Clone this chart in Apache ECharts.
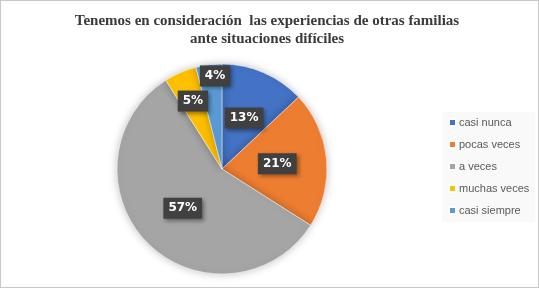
<!DOCTYPE html>
<html>
<head>
<meta charset="utf-8">
<script src="https://cdn.jsdelivr.net/npm/echarts@6/dist/echarts.min.js"></script>
<style>
  html, body { margin: 0; padding: 0; background: #fff; }
  #chart { width: 537px; height: 286px; border: 1px solid #c8c8c8; }
</style>
</head>
<body>
<div id="chart"></div>
<script>
  var categories = ['casi nunca', 'pocas veces', 'a veces', 'muchas veces', 'casi siempre']
  var values = [13, 21, 57, 5, 4]
  var colors = ['#4472c4', '#ed7d31', '#a5a5a5', '#ffc000', '#5b9bd5']
  // small slices get their label pushed outward like in the original
  var labelShift = [[0, 0], [0, 0], [0, 0], [-7, -17], [0, -38]]

  var myChart = echarts.init(document.getElementById('chart'))
  var data = []
  for (var i = 0; i < categories.length; i++) {
    data.push({ name: categories[i], value: values[i] })
  }
  var option = {
    color: colors,
    animation: false,
    title: {
      text: 'Tenemos en consideración  las experiencias de otras familias\nante situaciones difíciles',
      left: 261,
      top: 6,
      textAlign: 'center',
      textStyle: {
        fontFamily: 'Liberation Serif',
        fontSize: 15,
        fontWeight: 'bold',
        color: '#3a3a3a',
        lineHeight: 18,
      },
    },
    legend: {
      orient: 'vertical',
      left: 441,
      top: 111,
      width: 88,
      padding: [5, 6, 6, 6],
      itemGap: 11,
      itemWidth: 7,
      itemHeight: 7,
      icon: 'rect',
      backgroundColor: '#f9f9f9',
      data: categories,
      textStyle: {
        fontFamily: 'Liberation Sans',
        fontSize: 11,
        color: '#595959',
        padding: [0, 0, 0, -2],
      },
    },
    series: [
      {
        type: 'pie',
        center: [221, 168],
        radius: [0, 105],
        startAngle: 90,
        clockwise: true,
        data: data,
        itemStyle: {
          borderColor: '#fff',
          borderWidth: 0.5,
          shadowBlur: 8,
          shadowColor: 'rgba(0,0,0,0.25)',
        },
        label: {
          position: 'inside',
          formatter: '{c}%',
          color: '#fff',
          fontFamily: 'DejaVu Sans',
          fontWeight: 'bold',
          fontSize: 12,
          backgroundColor: '#404040',
          padding: [5, 5, 4, 5],
          shadowBlur: 4,
          shadowOffsetX: 2,
          shadowOffsetY: 2,
          shadowColor: 'rgba(0,0,0,0.4)',
        },
        labelLine: { show: false },
        labelLayout: function (params) {
          var s = labelShift[params.dataIndex]
          return { dx: s[0], dy: s[1] }
        },
        emphasis: { disabled: true },
      },
    ],
  }
  myChart.setOption(option)
</script>
</body>
</html>
